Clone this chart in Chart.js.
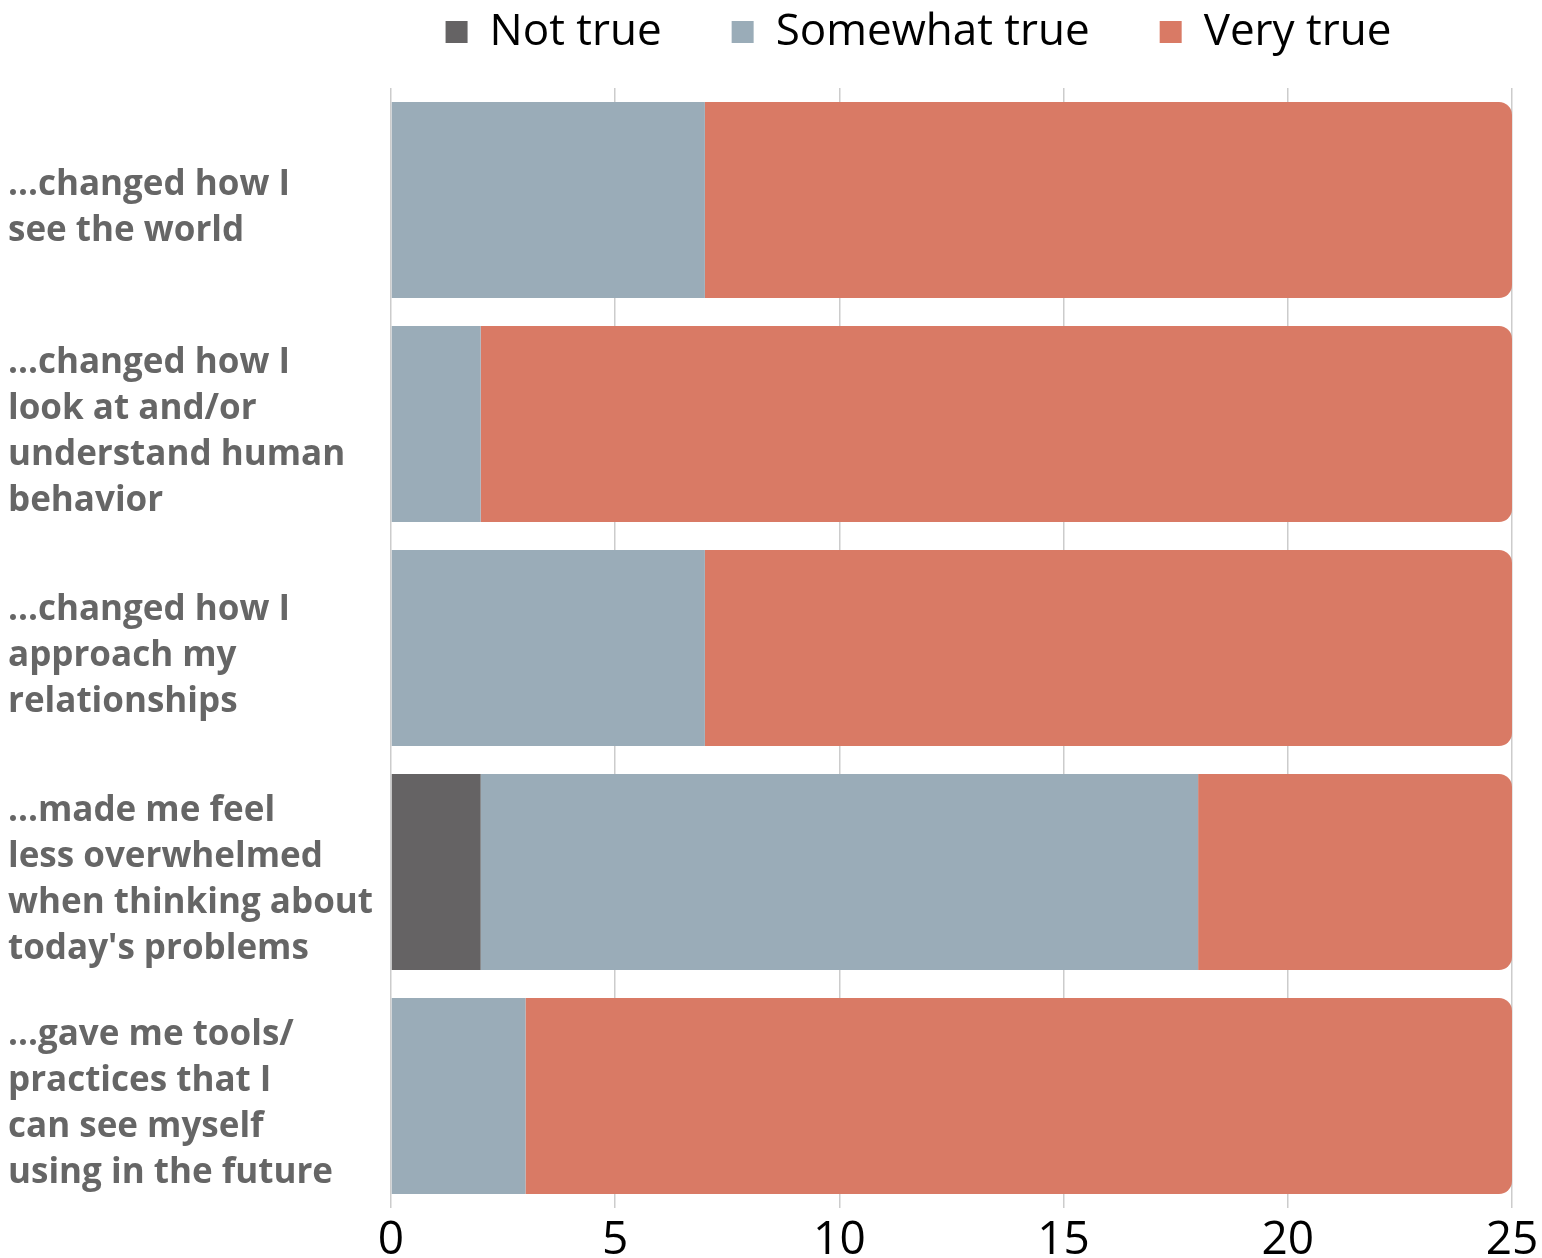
<!DOCTYPE html>
<html>
<head>
<meta charset="utf-8">
<script src="https://cdn.jsdelivr.net/npm/chart.js@4/dist/chart.umd.min.js"></script>
<style>
  html, body { margin: 0; padding: 0; background: #fff; }
  #wrap { width: 1542px; height: 1258px; position: relative; }
</style>
</head>
<body>
<div id="wrap"><canvas id="myChart"></canvas></div>
<script>
// statements, one per bar (multi-line labels)
const statements = [
  ["...changed how I", "see the world"],
  ["...changed how I", "look at and/or", "understand human", "behavior"],
  ["...changed how I", "approach my", "relationships"],
  ["...made me feel", "less overwhelmed", "when thinking about", "today's problems"],
  ["...gave me tools/", "practices that I", "can see myself", "using in the future"],
];

// answer counts per statement
const notTrue = [0, 0, 0, 2, 0];
const somewhatTrue = [7, 2, 7, 16, 3];
const veryTrue = [18, 23, 18, 7, 22];

const xTicks = [0, 5, 10, 15, 20, 25];

const labelFont = "'Open Sans', 'Noto Sans', sans-serif";

// fixed legend height, and nudge it a bit to the left
const legendTweak = {
  id: "legendTweak",
  beforeInit(chart) {
    const fit = chart.legend.fit;
    chart.legend.fit = function () {
      fit.bind(chart.legend)();
      this.height = 148;
    };
  },
  afterLayout(chart) {
    chart.legend.left -= 33;
    chart.legend.right -= 33;
  },
};

const data = {
  labels: statements,
  datasets: [
    {
      label: "Not true",
      data: notTrue,
      backgroundColor: "#656364",
    },
    {
      label: "Somewhat true",
      data: somewhatTrue,
      backgroundColor: "#9aacb8",
    },
    {
      label: "Very true",
      data: veryTrue,
      backgroundColor: "#d97a65",
      borderRadius: { topLeft: 0, bottomLeft: 0, topRight: 13, bottomRight: 13 },
      borderSkipped: false,
    },
  ],
};

const config = {
  type: "bar",
  data,
  plugins: [legendTweak],
  options: {
    indexAxis: "y",
    responsive: true,
    maintainAspectRatio: false,
    animation: false,
    categoryPercentage: 0.875,
    barPercentage: 1,
    layout: { padding: { left: 8, right: 30, top: -60, bottom: 0 } },
    plugins: {
      tooltip: { enabled: false },
      legend: {
        position: "top",
        fullSize: false,
        labels: {
          color: "#000",
          font: { family: labelFont, size: 44 },
          boxWidth: 22,
          boxHeight: 22,
          padding: 70,
        },
      },
    },
    scales: {
      x: {
        stacked: true,
        min: 0,
        max: 25,
        afterBuildTicks: (scale) => {
          scale.ticks = xTicks.map((v) => ({ value: v }));
        },
        afterFit: (scale) => {
          scale.height = 50;
          scale.paddingRight = 0;
        },
        grid: { color: "#cccccc", lineWidth: 1.5, drawTicks: false },
        border: { display: false },
        ticks: {
          color: "#000",
          font: { family: labelFont, size: 46, lineHeight: 1 },
          padding: 10,
        },
      },
      y: {
        stacked: true,
        grid: { display: false },
        border: { display: false },
        afterFit: (scale) => {
          scale.width = 383;
          scale.paddingTop = 0;
          scale.paddingBottom = 0;
        },
        ticks: {
          crossAlign: "far",
          color: "#666",
          padding: 10,
          labelOffset: 8,
          font: { family: labelFont, size: 35, weight: "bold", lineHeight: 1.31 },
        },
      },
    },
  },
};

const chart = new Chart(document.getElementById("myChart"), config);
</script>
</body>
</html>
